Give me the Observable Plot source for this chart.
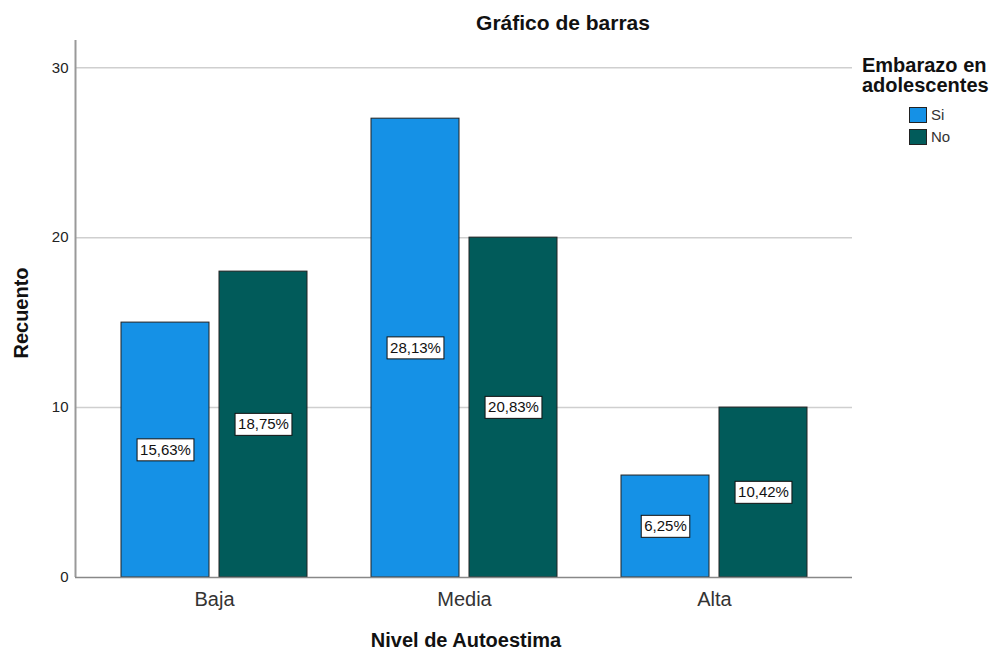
<!DOCTYPE html>
<html>
<head>
<meta charset="utf-8">
<script src="https://cdn.jsdelivr.net/npm/d3@7"></script>
<script src="https://cdn.jsdelivr.net/npm/@observablehq/plot@0.6"></script>
<style>
  body { margin: 0; background: #fff; font-family: "Liberation Sans", Arial, sans-serif; }
  #wrap { position: relative; width: 1008px; height: 655px; }
  #wrap > svg { position: absolute; left: 0; top: 0; }
  .ov { position: absolute; color: #111; white-space: nowrap; }
  .title { left: 363px; width: 400px; top: 11px; text-align: center; font-weight: bold; font-size: 21px; line-height: 24px; }
  .xlab { left: 266px; width: 400px; top: 629px; text-align: center; font-weight: bold; font-size: 20px; line-height: 22px; }
  .ylab { left: 21px; top: 313px; font-weight: bold; font-size: 20px; line-height: 22px; transform: translate(-50%, -50%) rotate(-90deg); }
  .legend-title { left: 862px; top: 55px; font-weight: bold; font-size: 20px; line-height: 20px; }
  .legend-item { left: 909px; font-size: 15px; line-height: 16px; color: #333; display: flex; align-items: center; }
  .legend-item span.sw { display: inline-block; width: 16px; height: 14px; border: 1px solid #222; margin-right: 4px; }
</style>
</head>
<body>
<div id="wrap"></div>
<script>
// Recuento por nivel de autoestima y embarazo en adolescentes
const niveles = ["Baja", "Media", "Alta"];
const grupos = ["Si", "No"];
const recuentoSi = [15, 27, 6];
const recuentoNo = [18, 20, 10];
const yTicks = [0, 10, 20, 30];
const colores = ["#1591e6", "#015b5a"];

const rows = [];
niveles.forEach((n, i) => {
  rows.push({nivel: n, grupo: "Si", valor: recuentoSi[i]});
  rows.push({nivel: n, grupo: "No", valor: recuentoNo[i]});
});
const total = d3.sum(rows, d => d.valor);
const pct = d => (d.valor / total * 100).toFixed(2).replace(".", ",") + "%";

const base = {
  width: 1008,
  height: 655,
  marginLeft: 75,
  marginRight: 156,
  marginTop: 40,
  marginBottom: 78,
  style: {fontFamily: "'Liberation Sans', Arial, sans-serif", color: "#222", background: "transparent", overflow: "visible"}
};
const yDomain = [0, 31.6];

// Background layer: grid lines, y axis and its line spanning the whole frame
const fondo = Plot.plot({
  ...base,
  x: {domain: [0, 1], axis: null},
  y: {domain: yDomain, axis: null},
  marks: [
    Plot.gridY(yTicks.filter(t => t > 0), {stroke: "#cfcfcf", strokeOpacity: 1, strokeWidth: 1.5}),
    Plot.axisY(yTicks, {tickSize: 0, tickPadding: 7, fontSize: 15, fill: "#222", label: null}),
    Plot.ruleX([0], {stroke: "#999", strokeWidth: 2})
  ]
});

// Foreground layer: grouped bars by level, with percentage labels
const barras = Plot.plot({
  ...base,
  fx: {domain: niveles, paddingInner: 0.248, paddingOuter: 0.178, label: null},
  x: {domain: grupos, paddingInner: 0.1, paddingOuter: 0, axis: null},
  y: {domain: yDomain, axis: null},
  color: {domain: grupos, range: colores},
  marks: [
    Plot.barY(rows, {fx: "nivel", x: "grupo", y: "valor", fill: "grupo", stroke: "#222", strokeWidth: 1}),
    Plot.text(rows, {fx: "nivel", x: "grupo", y: d => d.valor / 2, text: pct, fontSize: 15, fill: "#111", className: "pct-labels"}),
    Plot.axisFx({anchor: "bottom", tickSize: 0, tickPadding: 14, fontSize: 20, label: null, fill: "#333"})
  ]
});

// Baseline drawn over the bars' bottom edges
const linea = Plot.plot({
  ...base,
  x: {domain: [0, 1], axis: null},
  y: {domain: yDomain, axis: null},
  marks: [Plot.ruleY([0], {stroke: "#888", strokeWidth: 1.5})]
});

const wrap = document.getElementById("wrap");
wrap.append(fondo, barras, linea);

// White boxes with a dark border behind the percentage labels
d3.select(barras).selectAll("g.pct-labels text").each(function() {
  const b = this.getBBox();
  const padX = 3, padY = 3;
  const r = document.createElementNS("http://www.w3.org/2000/svg", "rect");
  r.setAttribute("x", b.x - padX);
  r.setAttribute("y", b.y - padY + 1);
  r.setAttribute("width", b.width + 2 * padX);
  r.setAttribute("height", b.height + 2 * padY - 1);
  r.setAttribute("fill", "#fff");
  r.setAttribute("stroke", "#111");
  r.setAttribute("stroke-width", "1");
  const t = this.getAttribute("transform");
  if (t) r.setAttribute("transform", t);
  this.parentNode.insertBefore(r, this);
});

function addDiv(cls, html, style) {
  const d = document.createElement("div");
  d.className = "ov " + cls;
  d.innerHTML = html;
  if (style) Object.assign(d.style, style);
  wrap.append(d);
  return d;
}
addDiv("title", "Gráfico de barras");
addDiv("xlab", "Nivel de Autoestima");
addDiv("ylab", "Recuento");
addDiv("legend-title", "Embarazo en<br>adolescentes");
grupos.forEach((g, i) => {
  addDiv("legend-item", `<span class="sw" style="background:${colores[i]}"></span>${g}`, {top: (107 + i * 22) + "px"});
});
</script>
</body>
</html>
